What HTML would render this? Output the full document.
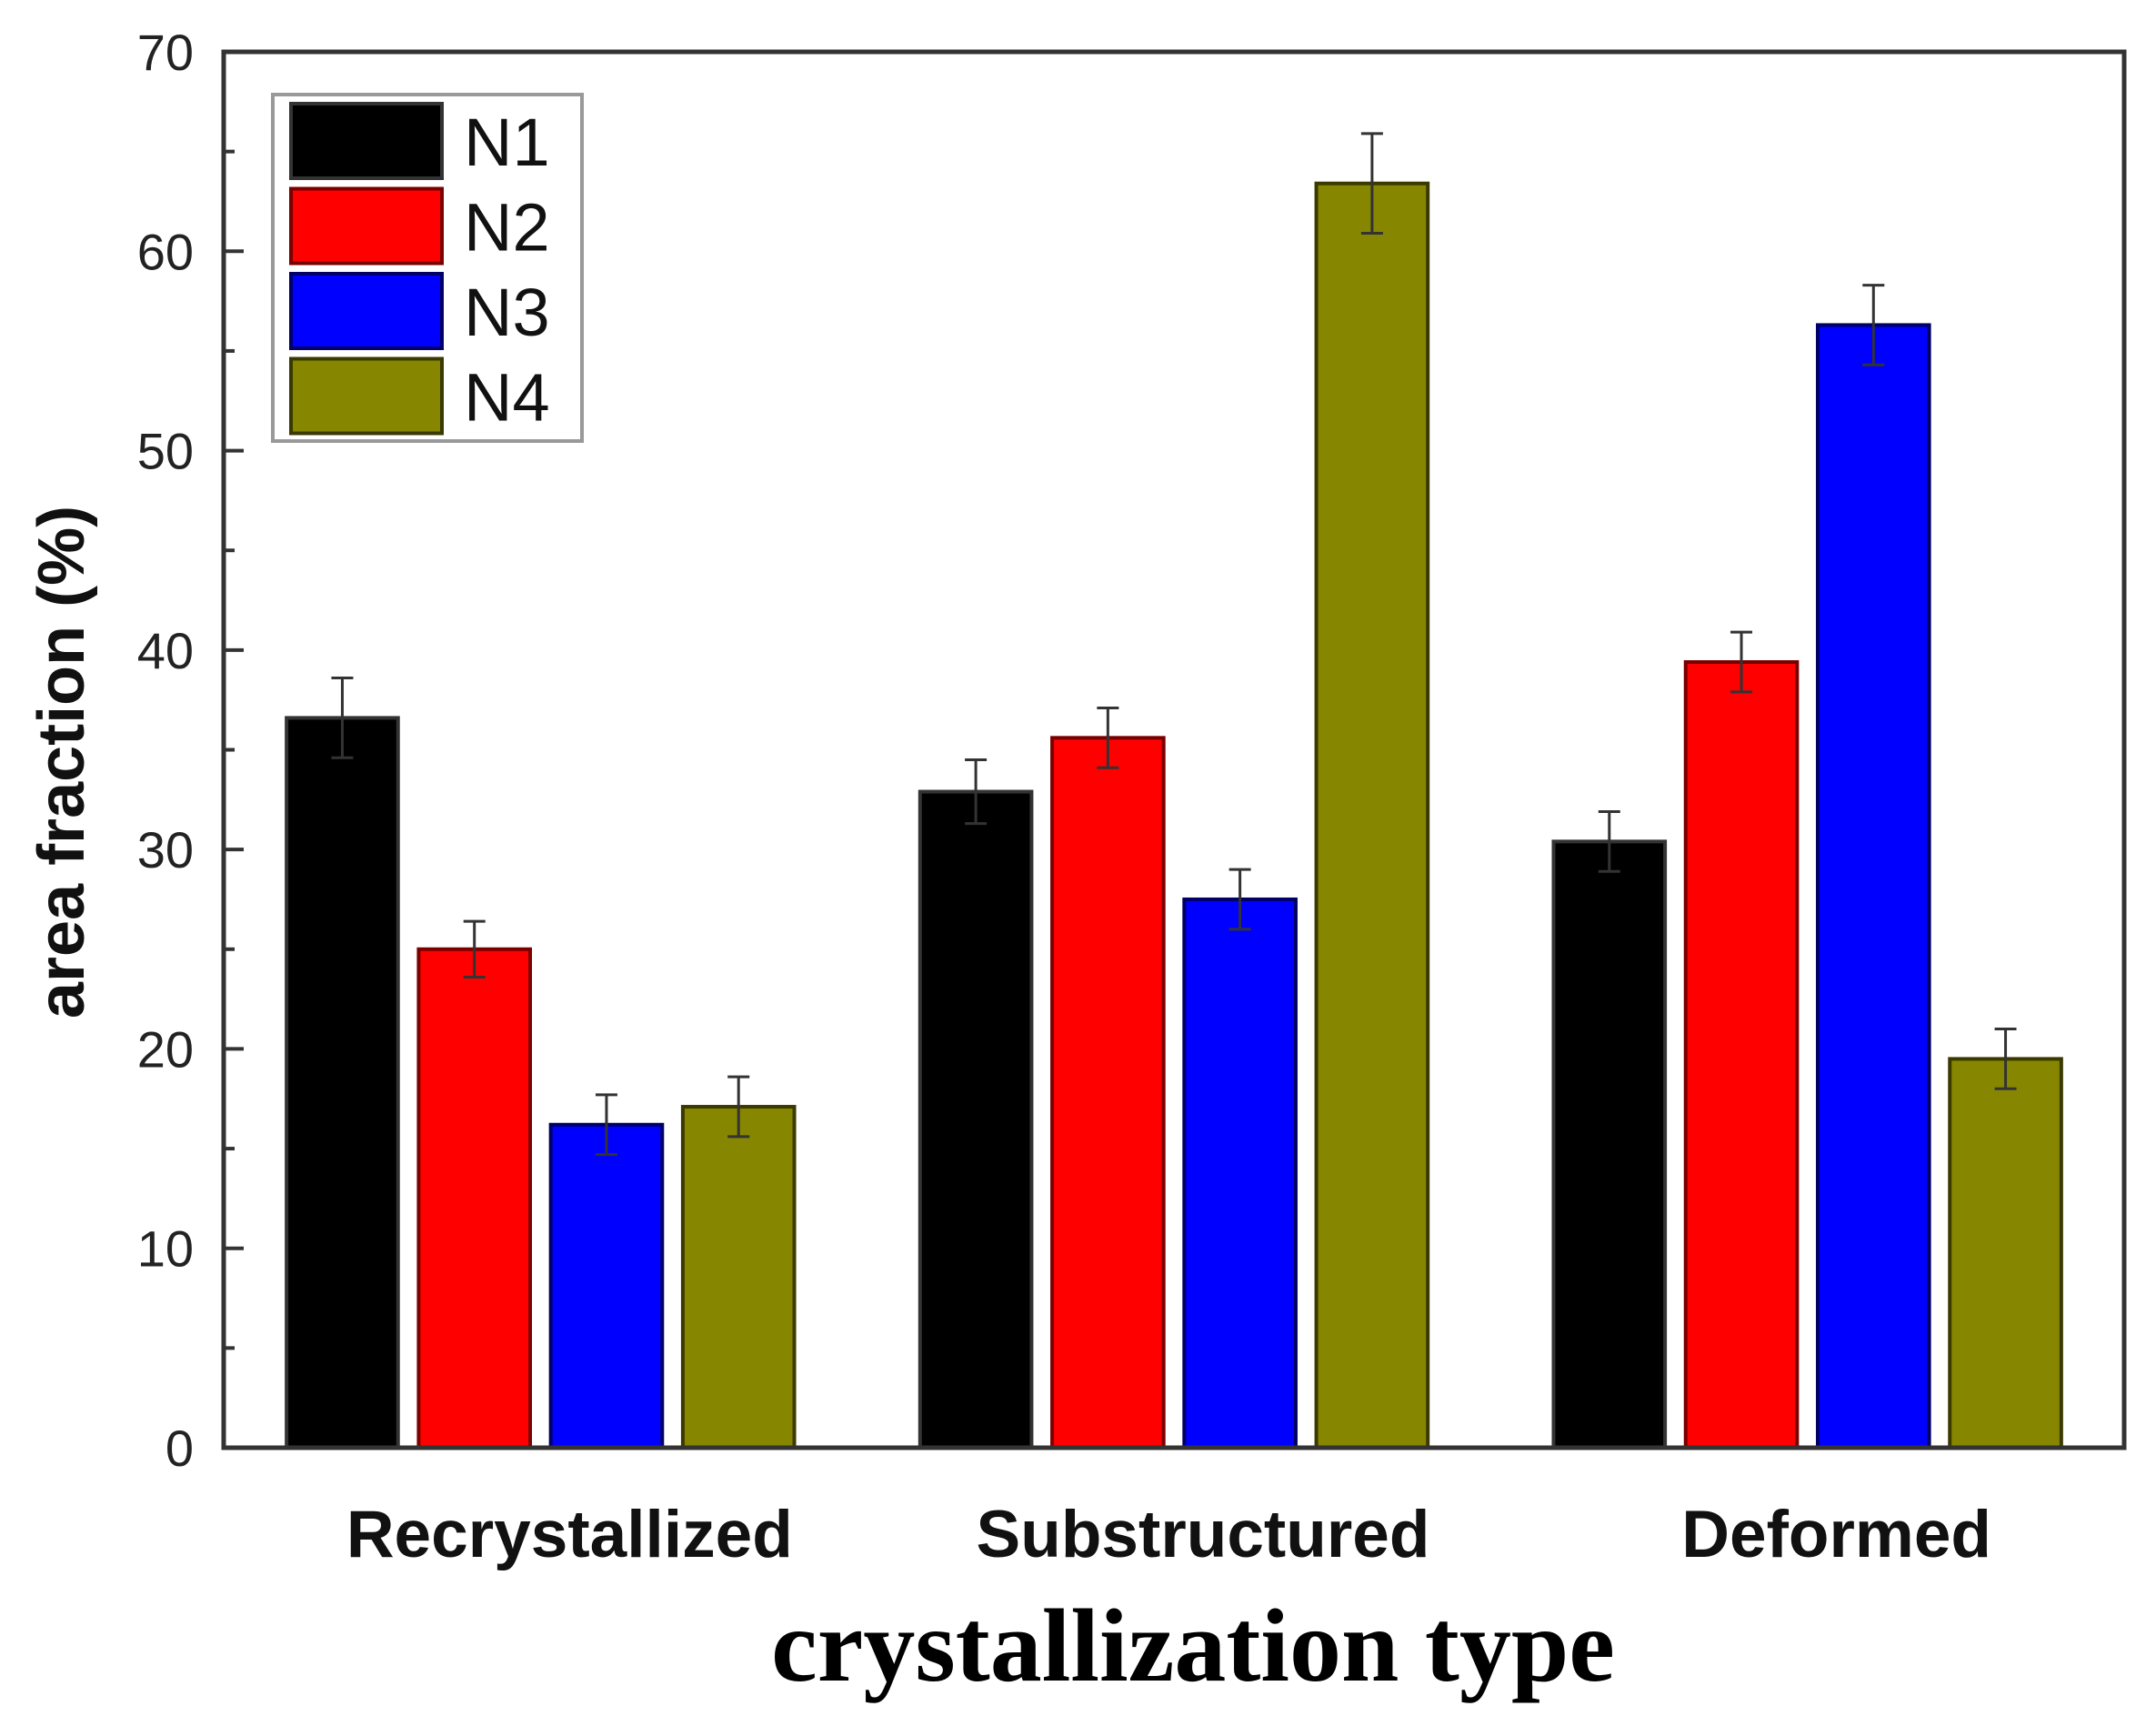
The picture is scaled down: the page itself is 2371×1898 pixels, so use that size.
<!DOCTYPE html>
<html><head><meta charset="utf-8"><style>
html,body{margin:0;padding:0;background:#fff;}
svg{display:block;}
</style></head><body>
<svg id="chart" width="2371" height="1898" viewBox="0 0 2371 1898" xmlns="http://www.w3.org/2000/svg">
<rect width="2371" height="1898" fill="#fff"/>
<g id="bars"></g>
<g id="axes"></g>
<text transform="translate(92,838) rotate(-90)" text-anchor="middle" font-family="Liberation Sans, sans-serif" font-weight="bold" font-size="72" fill="#111">area fraction (%)</text>
<text x="1312" y="1848" text-anchor="middle" font-family="Liberation Serif, serif" font-weight="bold" font-size="114" fill="#000">crystallization type</text>
<g>
<rect x="300" y="104" width="340" height="381" fill="#fff" stroke="#999" stroke-width="4"/>
</g>
<g id="legend-items"></g>
</svg>
<script>
const categories = ["Recrystallized", "Substructured", "Deformed"];
const seriesNames = ["N1", "N2", "N3", "N4"];
const seriesColors = ["#000000", "#ff0000", "#0000ff", "#868600"];
const valuesN1 = [36.6, 32.9, 30.4];
const valuesN2 = [25.0, 35.6, 39.4];
const valuesN3 = [16.2, 27.5, 56.3];
const valuesN4 = [17.1, 63.4, 19.5];
const errorsN1 = [2.0, 1.6, 1.5];
const errorsN2 = [1.4, 1.5, 1.5];
const errorsN3 = [1.5, 1.5, 2.0];
const errorsN4 = [1.5, 2.5, 1.5];
const yTicks = [0, 10, 20, 30, 40, 50, 60, 70];
const yMinorTicks = [5, 15, 25, 35, 45, 55, 65];

const NS = "http://www.w3.org/2000/svg";
const L = 246, R = 2336, T = 57, B = 1592;
const yMax = 70;
function yScale(v){ return B - (v / yMax) * (B - T); }
const band = (R - L) / categories.length;
function bandCenter(i){ return L + band * (i + 0.5); }
const barW = band * 0.176, barStep = band * 0.2085;
function barX(ci, si){ return bandCenter(ci) + (si - 1.5) * barStep - barW / 2; }
function mk(tag, attrs, parent){ const e = document.createElementNS(NS, tag); for (const k in attrs) e.setAttribute(k, attrs[k]); parent.appendChild(e); return e; }

const allValues = [valuesN1, valuesN2, valuesN3, valuesN4];
const allErrors = [errorsN1, errorsN2, errorsN3, errorsN4];
const edge = ["#333", "#7a0000", "#000066", "#3a3a00"];
const gb = document.getElementById("bars");
categories.forEach((c, ci) => {
  seriesNames.forEach((s, si) => {
    const v = allValues[si][ci], e = allErrors[si][ci];
    const x = barX(ci, si), y = yScale(v);
    const r = mk("rect", {x: x, y: y, width: barW, height: B - y, fill: seriesColors[si], stroke: edge[si], "stroke-width": 4}, gb);
    
    
    const cx = x + barW / 2, yt = yScale(v + e), yb = yScale(v - e);
    const eb = mk("path", {d: `M${cx},${yt}V${yb}M${cx-12},${yt}H${cx+12}M${cx-12},${yb}H${cx+12}`, stroke: "#333", "stroke-width": 3, fill: "none"}, gb);
    
    
  });
  const t = mk("text", {x: bandCenter(ci) + 32, y: 1712, "text-anchor": "middle", "font-family": "Liberation Sans, sans-serif", "font-weight": "bold", "font-size": 73, fill: "#111"}, gb);
  t.textContent = c;
  
  
});

const ga = document.getElementById("axes");
const frame = mk("rect", {x: L, y: T, width: R - L, height: B - T, fill: "none", stroke: "#333", "stroke-width": 5}, ga);


yTicks.forEach(v => {
  const y = yScale(v);
  const tk = mk("line", {x1: L, x2: L + 22, y1: y, y2: y, stroke: "#333", "stroke-width": 4}, ga);
  
  
  const t = mk("text", {x: 213, y: y + 20, "text-anchor": "end", "font-family": "Liberation Sans, sans-serif", "font-size": 56, fill: "#222"}, ga);
  t.textContent = v;
  
  
});
yMinorTicks.forEach(v => {
  const y = yScale(v);
  const tk = mk("line", {x1: L, x2: L + 12, y1: y, y2: y, stroke: "#333", "stroke-width": 4}, ga);
  
  
});

const gl = document.getElementById("legend-items");
seriesNames.forEach((s, si) => {
  const y = 114 + si * 93.5;
  const sw = mk("rect", {x: 320, y: y, width: 166, height: 82, fill: seriesColors[si], stroke: edge[si], "stroke-width": 4}, gl);
  
  
  const t = mk("text", {x: 510, y: y + 68, "font-family": "Liberation Sans, sans-serif", "font-size": 74, fill: "#111"}, gl);
  t.textContent = s;
  
  
});
</script>
</body></html>
